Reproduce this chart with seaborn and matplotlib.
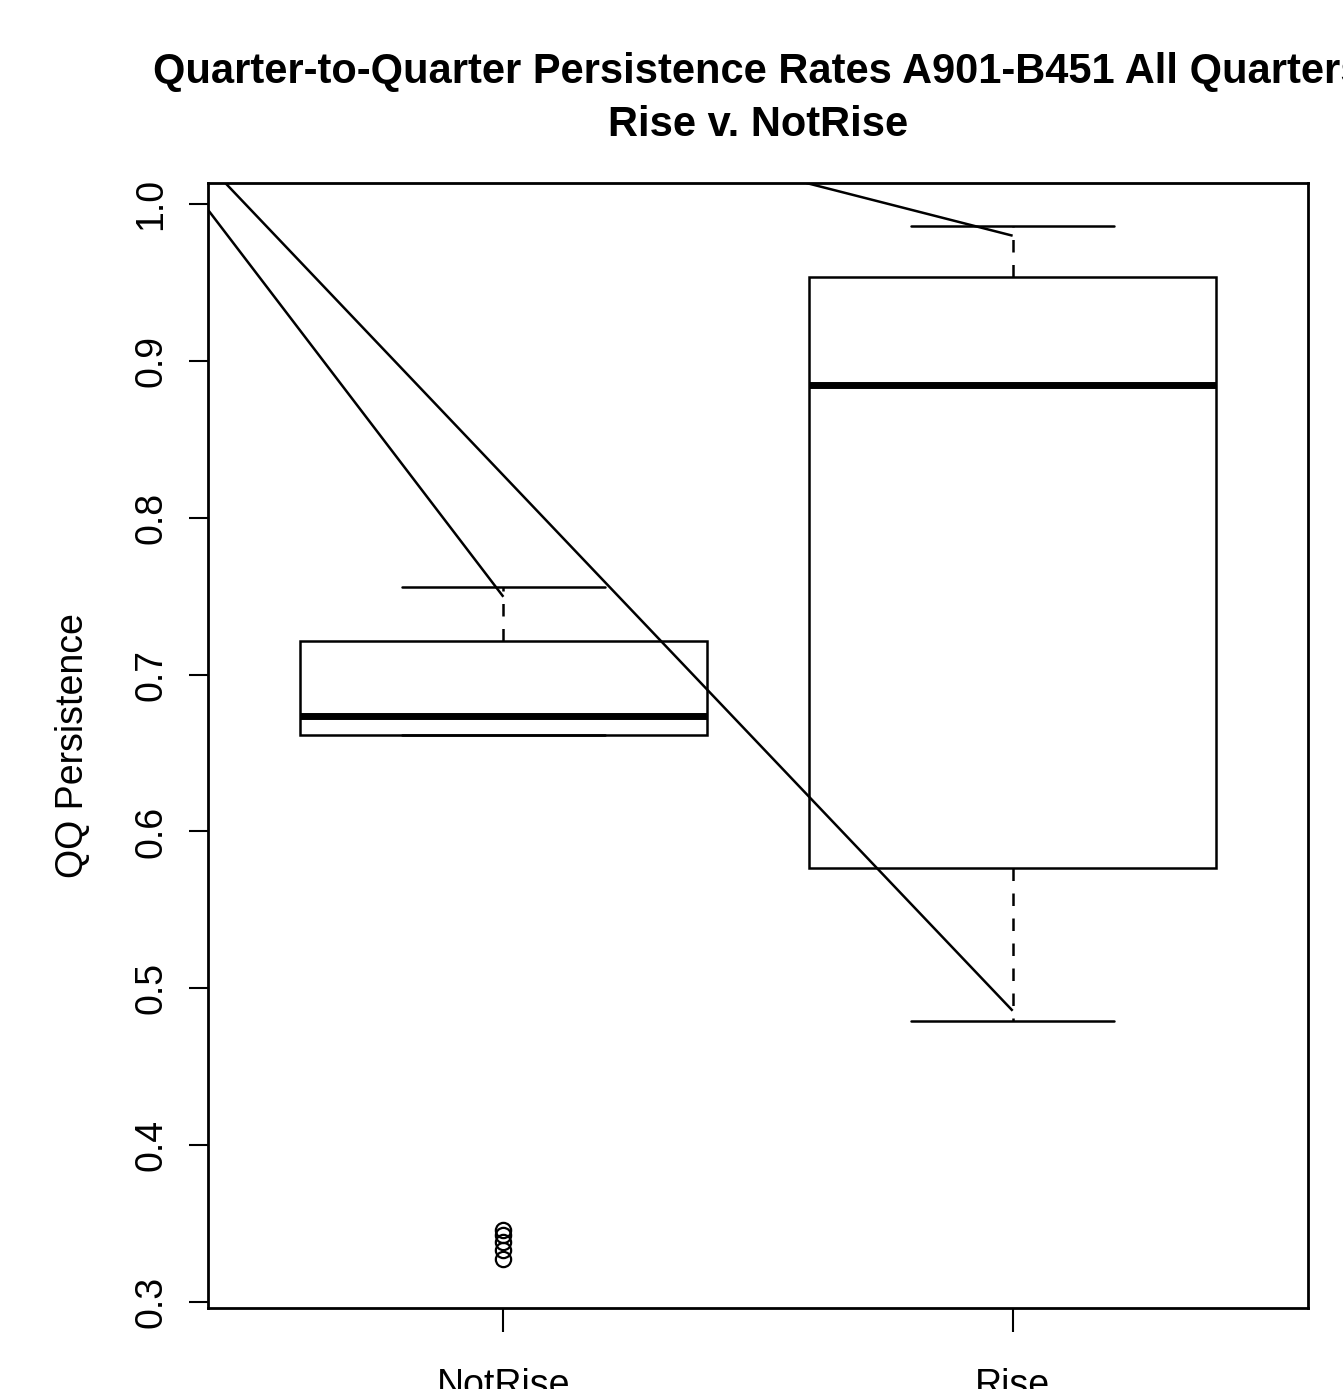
import matplotlib
matplotlib.use("Agg")
import matplotlib.pyplot as plt
import seaborn as sns
import pandas as pd

# ---- data ----
categories = ["NotRise", "Rise"]
notrise_values = [0.3274, 0.3332, 0.3384, 0.3427, 0.3459,
                  0.6615, 0.6630, 0.6650, 0.6680, 0.6710,
                  0.6736,
                  0.6800, 0.6900, 0.7000, 0.7100,
                  0.7214, 0.7300, 0.7380, 0.7450, 0.7500, 0.7558]
rise_values = [0.4793, 0.5300, 0.5767, 0.7400, 0.8846,
               0.9200, 0.9535, 0.9700, 0.9862]

# overlaid line segments (x in group index units: 0 = NotRise, 1 = Rise)
seg_a_x = [-0.5793, 0.0]
seg_a_y = [0.9960, 0.7496]
seg_b_x = [-0.5460, 1.0]
seg_b_y = [1.0134, 0.4857]
seg_c_x = [0.5950, 1.0]
seg_c_y = [1.0134, 0.9798]

y_ticks = [0.3, 0.4, 0.5, 0.6, 0.7, 0.8, 0.9, 1.0]
y_tick_labels = ["0.3", "0.4", "0.5", "0.6", "0.7", "0.8", "0.9", "1.0"]

title_text = "Quarter-to-Quarter Persistence Rates A901-B451 All Quarters\nRise v. NotRise"
ylabel_text = "QQ Persistence"

df = pd.DataFrame({
    "group": ["NotRise"] * len(notrise_values) + ["Rise"] * len(rise_values),
    "value": notrise_values + rise_values,
})

sns.set_theme(style="white")
plt.rcParams["font.family"] = ["Liberation Sans", "DejaVu Sans"]
plt.rcParams["text.color"] = "black"
plt.rcParams["axes.labelcolor"] = "black"
plt.rcParams["xtick.color"] = "black"
plt.rcParams["ytick.color"] = "black"

W, H, DPI = 1343, 1389, 100
fig = plt.figure(figsize=(W / DPI, H / DPI), dpi=DPI)
ax = fig.add_axes([208 / W, 1 - 1308 / H, 1100 / W, 1125 / H])

lw = 1.8
sns.boxplot(data=df, x="group", y="value", order=categories, ax=ax,
            width=0.8, color="white", linecolor="black", linewidth=lw,
            whis=1.5,
            boxprops=dict(facecolor="white", edgecolor="black", linewidth=lw),
            whiskerprops=dict(color="black", linewidth=lw, linestyle=(0, (5, 5))),
            capprops=dict(color="black", linewidth=lw),
            medianprops=dict(color="black", linewidth=5),
            flierprops=dict(marker="o", markerfacecolor="none",
                            markeredgecolor="black", markersize=11,
                            markeredgewidth=1.6))

for sx, sy in [(seg_a_x, seg_a_y), (seg_b_x, seg_b_y), (seg_c_x, seg_c_y)]:
    ax.plot(sx, sy, color="black", linewidth=lw, solid_capstyle="butt")

ax.set_xlim(-0.58, 1.58)
ax.set_ylim(0.2962, 1.0134)

for s in ax.spines.values():
    s.set_visible(True)
    s.set_color("black")
    s.set_linewidth(2.0)

ax.set_yticks(y_ticks)
ax.set_yticklabels(y_tick_labels, rotation=90, va="center", color="black")
ax.tick_params(axis="y", direction="out", length=14, width=1.5, color="black",
               labelcolor="black", labelsize=27, pad=14, left=True)
ax.tick_params(axis="x", direction="out", length=17, width=1.5, color="black",
               labelcolor="black", labelsize=27, pad=26, bottom=True)
ax.set_xlabel("")
ax.set_ylabel(ylabel_text, fontsize=27, color="black")
ax.yaxis.set_label_coords(-0.1065, 0.5)

ax.set_title(title_text, fontsize=30, fontweight="bold", linespacing=1.42,
             pad=34, color="black")

fig.savefig("out.png", dpi=DPI)
